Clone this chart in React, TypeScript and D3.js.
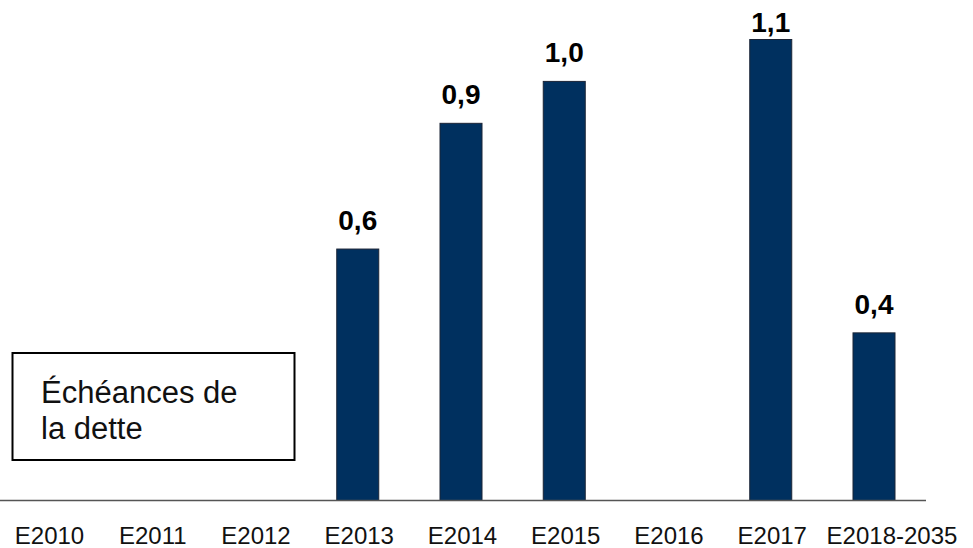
import React from "react";
import * as d3 from "d3";

const categories = ["E2010", "E2011", "E2012", "E2013", "E2014", "E2015", "E2016", "E2017", "E2018-2035"];
const values: (number | null)[] = [null, null, null, 0.6, 0.9, 1.0, null, 1.1, 0.4];
const legendLines = ["Échéances de", "la dette"];

const W = 973;
const H = 548;
const FONT = "'Liberation Sans', Arial, sans-serif";

export default function App() {
  const x = d3.scalePoint<string>().domain(categories).range([48, 874]).padding(0);
  const y = d3.scaleLinear().domain([0, 1.1]).range([500.5, 39.5]);
  const barW = 42;
  const fmt = (v: number) => d3.format(".1f")(v).replace(".", ",");

  return (
    <svg
      width={W}
      height={H}
      viewBox={`0 0 ${W} ${H}`}
      style={{ position: "absolute", left: 0, top: 0, display: "block", background: "#fff" }}
    >
      {categories.map((c, i) => {
        const v = values[i];
        if (v == null) return null;
        const cx = x(c)!;
        return (
          <rect
            key={c}
            x={cx - barW / 2}
            y={y(v)}
            width={barW}
            height={y(0) - y(v)}
            fill="#00305f"
            stroke="#1b2436"
            strokeWidth={1}
          />
        );
      })}
      <line x1={0} x2={926} y1={y(0)} y2={y(0)} stroke="#555" strokeWidth={1.5} />
      {categories.map((c, i) => {
        const v = values[i];
        if (v == null) return null;
        const base = Math.max(32, y(v) - 19);
        return (
          <text
            key={"l" + c}
            x={x(c)!}
            y={base}
            textAnchor="middle"
            fontFamily={FONT}
            fontWeight="bold"
            fontSize={28}
            fill="#000"
          >
            {fmt(v)}
          </text>
        );
      })}
      {categories.map((c, i) => (
        <text
          key={"t" + c}
          x={x(c)! + (i === categories.length - 1 ? 18 : 1.5)}
          y={544}
          textAnchor="middle"
          fontFamily={FONT}
          fontSize={24}
          fill="#111"
        >
          {c}
        </text>
      ))}
      <rect x={12.5} y={353} width={282} height={107} fill="#fff" stroke="#000" strokeWidth={2} />
      {legendLines.map((t, i) => (
        <text key={t} x={41} y={403 + i * 36} fontFamily={FONT} fontSize={31} fill="#111">
          {t}
        </text>
      ))}
    </svg>
  );
}
